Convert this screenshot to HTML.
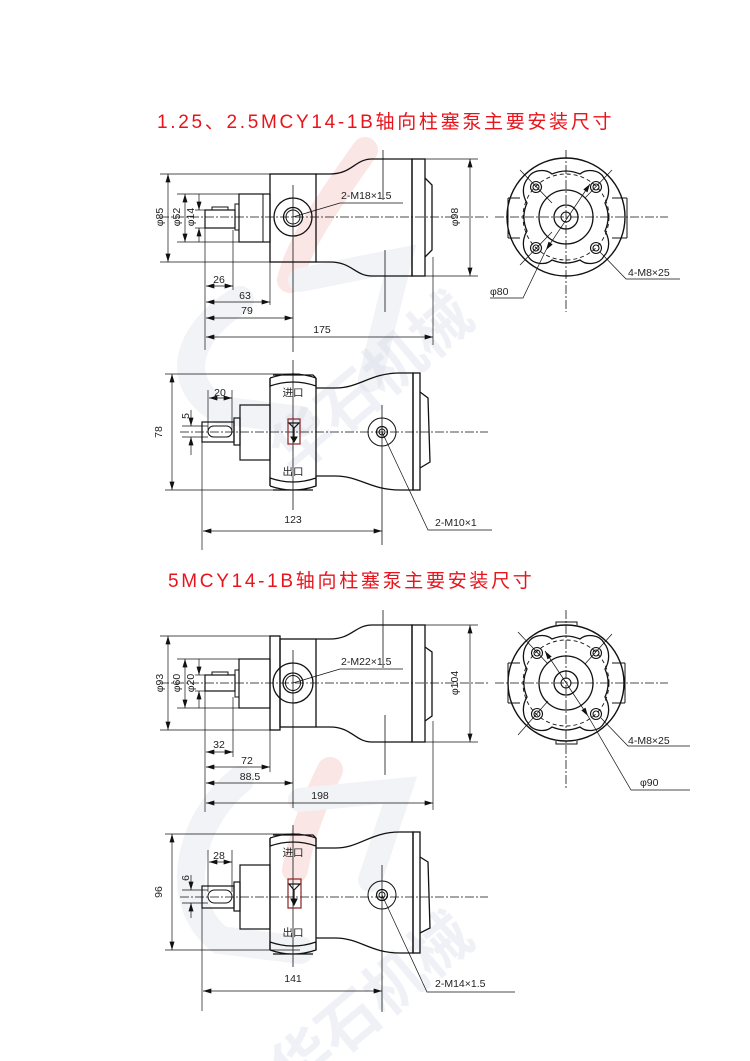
<!DOCTYPE html>
<html><head><meta charset="utf-8"><style>
html,body{margin:0;padding:0;background:#fff;}
svg{display:block;}
text{font-family:"Liberation Sans","Noto Sans CJK SC",sans-serif;fill:#222;}
</style></head><body>
<svg width="750" height="1061" viewBox="0 0 750 1061" xmlns="http://www.w3.org/2000/svg">
<defs>
<marker id="a" viewBox="0 0 10 6" refX="10" refY="3" markerWidth="9" markerHeight="5" markerUnits="userSpaceOnUse" orient="auto-start-reverse"><path d="M0,0 L10,3 L0,6 Z" fill="#111"/></marker>
</defs>

<!-- watermark -->
<g opacity="0.35" fill="none" stroke-linecap="round">
<path d="M365,150 C330,200 300,240 290,280" stroke="#f4b8b8" stroke-width="26"/>
<path d="M240,300 C190,330 170,380 220,410 L300,420" stroke="#d9dde8" stroke-width="28"/>
<path d="M300,280 L400,260 L370,380" stroke="#d9dde8" stroke-width="24"/>
<path d="M330,770 C315,800 300,840 295,870" stroke="#f4b8b8" stroke-width="26"/>
<path d="M240,780 C190,820 170,900 220,940 L300,950" stroke="#d9dde8" stroke-width="28"/>
<path d="M300,800 L400,790 L370,880" stroke="#d9dde8" stroke-width="24"/>
</g>
<g opacity="0.35">
<text x="240" y="1050" font-size="60" font-weight="bold" transform="rotate(-40 330 1000)" style="fill:#d3d8e4">华石机械</text>
<text x="240" y="430" font-size="60" font-weight="bold" transform="rotate(-40 330 380)" style="fill:#d3d8e4">华石机械</text>
</g>

<!-- titles -->
<text x="157" y="128" font-size="19" letter-spacing="2.7" style="fill:#e8141c">1.25、2.5MCY14-1B轴向柱塞泵主要安装尺寸</text>
<text x="168" y="587" font-size="19" letter-spacing="2.7" style="fill:#e8141c">5MCY14-1B轴向柱塞泵主要安装尺寸</text>

<g stroke="#111" fill="none" stroke-width="1">
<!-- ===== Section 1 top view ===== -->
<line x1="160" y1="217" x2="488" y2="217" stroke-dasharray="9 2 2 2" stroke-width="0.8"/>
<line x1="293" y1="185" x2="293" y2="352" stroke-width="0.8"/>
<line x1="383" y1="150" x2="383" y2="200" stroke-width="0.8"/>
<line x1="385" y1="250" x2="385" y2="312" stroke-width="0.8"/>
<rect x="270" y="174" width="46" height="88" stroke-width="1.3"/>
<path d="M316,174 L330,174 C352,174 355,159 372,159 L412,159 L412,276 L372,276 C355,276 352,262 330,262 L316,262" stroke-width="1.3"/>
<rect x="412" y="159" width="13" height="117" stroke-width="1.3"/>
<path d="M425,178 L432,185 L432,250 L425,257" stroke-width="1.3"/>
<rect x="239" y="194" width="31" height="48" stroke-width="1.2"/>
<line x1="263" y1="194" x2="263" y2="242"/>
<rect x="235" y="204" width="4" height="26"/>
<rect x="205" y="210" width="30" height="18" stroke-width="1.2"/>
<rect x="212" y="207" width="16" height="3"/>
<circle cx="293" cy="217" r="19" stroke-width="1.3"/>
<circle cx="293" cy="217" r="9.5" stroke-width="1.3"/>
<circle cx="293" cy="217" r="7"/>
<line x1="160" y1="174" x2="270" y2="174" stroke-width="0.7"/>
<line x1="160" y1="262" x2="270" y2="262" stroke-width="0.7"/>
<line x1="168" y1="174" x2="168" y2="262" marker-start="url(#a)" marker-end="url(#a)" stroke-width="0.7"/>
<line x1="177" y1="194" x2="239" y2="194" stroke-width="0.7"/>
<line x1="177" y1="242" x2="239" y2="242" stroke-width="0.7"/>
<line x1="185" y1="194" x2="185" y2="242" marker-start="url(#a)" marker-end="url(#a)" stroke-width="0.7"/>
<line x1="195" y1="210" x2="205" y2="210" stroke-width="0.7"/>
<line x1="195" y1="228" x2="205" y2="228" stroke-width="0.7"/>
<line x1="199" y1="194" x2="199" y2="210" marker-end="url(#a)" stroke-width="0.7"/>
<line x1="199" y1="242" x2="199" y2="228" marker-end="url(#a)" stroke-width="0.7"/>
<line x1="205" y1="228" x2="205" y2="350" stroke-width="0.7"/>
<line x1="233" y1="230" x2="233" y2="290" stroke-width="0.7"/>
<line x1="270" y1="262" x2="270" y2="305" stroke-width="0.7"/>
<line x1="433" y1="257" x2="433" y2="345" stroke-width="0.7"/>
<line x1="206" y1="286" x2="233" y2="286" marker-start="url(#a)" marker-end="url(#a)" stroke-width="0.7"/>
<line x1="206" y1="302" x2="270" y2="302" marker-start="url(#a)" marker-end="url(#a)" stroke-width="0.7"/>
<line x1="206" y1="318" x2="293" y2="318" marker-start="url(#a)" marker-end="url(#a)" stroke-width="0.7"/>
<line x1="206" y1="337" x2="433" y2="337" marker-start="url(#a)" marker-end="url(#a)" stroke-width="0.7"/>
<line x1="412" y1="159" x2="478" y2="159" stroke-width="0.7"/>
<line x1="425" y1="276" x2="478" y2="276" stroke-width="0.7"/>
<line x1="470" y1="159" x2="470" y2="276" marker-start="url(#a)" marker-end="url(#a)" stroke-width="0.7"/>
<polyline points="293,217 340,203 403,203" stroke-width="0.7"/>

<!-- Section 1 end view -->
<line x1="495" y1="217" x2="668" y2="217" stroke-dasharray="9 2 2 2" stroke-width="0.8"/>
<line x1="566" y1="150" x2="566" y2="312" stroke-dasharray="9 2 2 2" stroke-width="0.8"/>
<path d="M508,198 L508,238 M627,198 L627,238" stroke-width="1"/>
<path d="M508,198 L520,198 M508,238 L520,238 M627,198 L612,198 M627,238 L612,238"/>
<circle cx="566" cy="217" r="59" stroke-width="1.4"/>
<path d="M528,178 C532,170 545,168 552,174 C562,170 570,170 580,174 C587,168 600,170 604,178 C610,185 610,195 605,203 C609,212 609,222 605,231 C610,239 610,250 604,256 C600,264 587,266 580,260 C570,264 562,264 552,260 C545,266 532,264 528,256 C522,250 522,239 527,231 C523,222 523,212 527,203 C522,195 522,185 528,178 Z" stroke-width="1.3"/>
<circle cx="566" cy="217" r="43" stroke-dasharray="4 3" stroke-width="0.9"/>
<circle cx="566" cy="217" r="27" stroke-width="1.3"/>
<circle cx="566" cy="217" r="12" stroke-width="1.3"/>
<circle cx="566" cy="217" r="5"/>
<g stroke-width="1.1"><circle cx="536" cy="187" r="5.5"/><circle cx="536" cy="187" r="3"/><circle cx="596" cy="187" r="5.5"/><circle cx="596" cy="187" r="3"/><circle cx="536" cy="248" r="5.5"/><circle cx="536" cy="248" r="3"/><circle cx="596" cy="248" r="5.5"/><circle cx="596" cy="248" r="3"/></g>
<line x1="520" y1="170" x2="552" y2="203" stroke-width="0.7"/>
<line x1="612" y1="170" x2="585" y2="198" stroke-width="0.7"/>
<line x1="520" y1="265" x2="552" y2="232" stroke-width="0.7"/>
<line x1="546" y1="250" x2="590" y2="184" marker-start="url(#a)" marker-end="url(#a)" stroke-width="0.7"/>
<polyline points="546,250 523,298 490,298" stroke-width="0.7"/>
<polyline points="600,252 626,279 680,279" stroke-width="0.7"/>

<!-- ===== Section 1 side view ===== -->
<line x1="180" y1="432" x2="488" y2="432" stroke-dasharray="9 2 2 2" stroke-width="0.8"/>
<line x1="293" y1="360" x2="293" y2="510" stroke-width="0.8"/>
<line x1="382" y1="405" x2="382" y2="545" stroke-width="0.8"/>
<path d="M270,378 L270,486 M316,378 L316,486" stroke-width="1.3"/>
<path d="M273,375 L313,375 L316,378 Q293,370 270,378 M270,378 L270,386 Q293,378 316,386 L316,378" stroke-width="1.2"/>
<path d="M270,486 L270,478 Q293,486 316,478 L316,486 Q293,494 270,486 M273,490 L313,490" stroke-width="1.2"/>
<path d="M316,388 L335,388 C360,388 370,373 400,373 L413,373 L413,490 L400,490 C370,490 360,476 335,476 L316,476" stroke-width="1.3"/>
<rect x="413" y="373" width="7" height="117" stroke-width="1.3"/>
<path d="M420,392 L428,398 L430,462 L420,468" stroke-width="1.3"/>
<rect x="240" y="405" width="30" height="55" stroke-width="1.2"/>
<rect x="234" y="418" width="6" height="27" stroke-width="1.2"/>
<rect x="202" y="422" width="32" height="20" stroke-width="1.2"/>
<rect x="208" y="426" width="24" height="11" rx="5.5"/>
<rect x="288" y="419" width="12" height="25" stroke="#8a2222" stroke-width="1.2"/>
<path d="M289,423 L299,423 L294,428 Z M294,428 L294,440" stroke-width="1.2"/>
<path d="M291,437 L294,442 L297,437 Z" fill="#111"/>
<circle cx="382" cy="432" r="14"/>
<circle cx="382" cy="432" r="5.5" stroke-width="1.2"/>
<circle cx="382" cy="432" r="3"/>
<line x1="165" y1="374" x2="300" y2="374" stroke-width="0.7"/>
<line x1="165" y1="490" x2="300" y2="490" stroke-width="0.7"/>
<line x1="172" y1="374" x2="172" y2="490" marker-start="url(#a)" marker-end="url(#a)" stroke-width="0.7"/>
<line x1="208" y1="390" x2="208" y2="430" stroke-width="0.7"/>
<line x1="232" y1="390" x2="232" y2="430" stroke-width="0.7"/>
<line x1="209" y1="398" x2="232" y2="398" marker-start="url(#a)" marker-end="url(#a)" stroke-width="0.7"/>
<line x1="182" y1="426" x2="208" y2="426" stroke-width="0.7"/>
<line x1="182" y1="437" x2="208" y2="437" stroke-width="0.7"/>
<line x1="191" y1="410" x2="191" y2="426" marker-end="url(#a)" stroke-width="0.7"/>
<line x1="191" y1="455" x2="191" y2="437" marker-end="url(#a)" stroke-width="0.7"/>
<line x1="202" y1="442" x2="202" y2="550" stroke-width="0.7"/>
<line x1="203" y1="531" x2="382" y2="531" marker-start="url(#a)" marker-end="url(#a)" stroke-width="0.7"/>
<polyline points="382,432 428,530 492,530" stroke-width="0.7"/>

<!-- ===== Section 2 top view ===== -->
<line x1="160" y1="683" x2="488" y2="683" stroke-dasharray="9 2 2 2" stroke-width="0.8"/>
<line x1="293" y1="650" x2="293" y2="808" stroke-width="0.8"/>
<line x1="383" y1="610" x2="383" y2="668" stroke-width="0.8"/>
<line x1="385" y1="715" x2="385" y2="775" stroke-width="0.8"/>
<rect x="270" y="636" width="10" height="94" stroke-width="1.3"/>
<rect x="280" y="639" width="36" height="88" stroke-width="1.3"/>
<path d="M316,639 L330,639 C352,639 355,625 372,625 L412,625 L412,742 L372,742 C355,742 352,727 330,727 L316,727" stroke-width="1.3"/>
<rect x="412" y="625" width="13" height="117" stroke-width="1.3"/>
<path d="M425,647 L432,652 L432,716 L425,721" stroke-width="1.3"/>
<rect x="239" y="659" width="31" height="49" stroke-width="1.2"/>
<rect x="235" y="670" width="4" height="27"/>
<rect x="205" y="675" width="30" height="16" stroke-width="1.2"/>
<rect x="212" y="672" width="16" height="3"/>
<circle cx="293" cy="683" r="20" stroke-width="1.3"/>
<circle cx="293" cy="683" r="10" stroke-width="1.3"/>
<circle cx="293" cy="683" r="7.5"/>
<line x1="160" y1="636" x2="270" y2="636" stroke-width="0.7"/>
<line x1="160" y1="730" x2="270" y2="730" stroke-width="0.7"/>
<line x1="168" y1="636" x2="168" y2="730" marker-start="url(#a)" marker-end="url(#a)" stroke-width="0.7"/>
<line x1="177" y1="659" x2="239" y2="659" stroke-width="0.7"/>
<line x1="177" y1="708" x2="239" y2="708" stroke-width="0.7"/>
<line x1="185" y1="659" x2="185" y2="708" marker-start="url(#a)" marker-end="url(#a)" stroke-width="0.7"/>
<line x1="195" y1="675" x2="205" y2="675" stroke-width="0.7"/>
<line x1="195" y1="691" x2="205" y2="691" stroke-width="0.7"/>
<line x1="199" y1="659" x2="199" y2="675" marker-end="url(#a)" stroke-width="0.7"/>
<line x1="199" y1="708" x2="199" y2="691" marker-end="url(#a)" stroke-width="0.7"/>
<line x1="205" y1="691" x2="205" y2="812" stroke-width="0.7"/>
<line x1="233" y1="697" x2="233" y2="757" stroke-width="0.7"/>
<line x1="270" y1="730" x2="270" y2="772" stroke-width="0.7"/>
<line x1="433" y1="721" x2="433" y2="810" stroke-width="0.7"/>
<line x1="206" y1="752" x2="233" y2="752" marker-start="url(#a)" marker-end="url(#a)" stroke-width="0.7"/>
<line x1="206" y1="767" x2="270" y2="767" marker-start="url(#a)" marker-end="url(#a)" stroke-width="0.7"/>
<line x1="206" y1="783" x2="293" y2="783" marker-start="url(#a)" marker-end="url(#a)" stroke-width="0.7"/>
<line x1="206" y1="803" x2="433" y2="803" marker-start="url(#a)" marker-end="url(#a)" stroke-width="0.7"/>
<line x1="412" y1="625" x2="478" y2="625" stroke-width="0.7"/>
<line x1="425" y1="742" x2="478" y2="742" stroke-width="0.7"/>
<line x1="470" y1="625" x2="470" y2="742" marker-start="url(#a)" marker-end="url(#a)" stroke-width="0.7"/>
<polyline points="293,683 340,669 403,669" stroke-width="0.7"/>

<!-- Section 2 end view -->
<line x1="495" y1="683" x2="668" y2="683" stroke-dasharray="9 2 2 2" stroke-width="0.8"/>
<line x1="566" y1="610" x2="566" y2="790" stroke-dasharray="9 2 2 2" stroke-width="0.8"/>
<path d="M508,663 L508,703 M625,663 L625,703 M508,663 L520,663 M508,703 L520,703 M625,663 L612,663 M625,703 L612,703"/>
<circle cx="566" cy="683" r="58" stroke-width="1.4"/>
<path d="M556,625 L556,622 L577,622 L577,625 M556,741 L556,744 L577,744 L577,741"/>
<path d="M528,643 C532,635 545,633 552,639 C562,635 570,635 580,639 C587,633 600,635 604,643 C610,650 610,661 605,669 C609,678 609,688 605,697 C610,705 610,716 604,723 C600,731 587,733 580,727 C570,731 562,731 552,727 C545,733 532,731 528,723 C522,716 522,705 527,697 C523,688 523,678 527,669 C522,661 522,650 528,643 Z" stroke-width="1.3"/>
<circle cx="566" cy="683" r="43" stroke-dasharray="4 3" stroke-width="0.9"/>
<circle cx="566" cy="683" r="27" stroke-width="1.3"/>
<circle cx="566" cy="683" r="12" stroke-width="1.3"/>
<circle cx="566" cy="683" r="5"/>
<g stroke-width="1.1"><circle cx="537" cy="653" r="5.5"/><circle cx="537" cy="653" r="3"/><circle cx="596" cy="653" r="5.5"/><circle cx="596" cy="653" r="3"/><circle cx="537" cy="714" r="5.5"/><circle cx="537" cy="714" r="3"/><circle cx="596" cy="714" r="5.5"/><circle cx="596" cy="714" r="3"/></g>
<line x1="518" y1="632" x2="548" y2="664" stroke-width="0.7"/>
<line x1="612" y1="634" x2="585" y2="664" stroke-width="0.7"/>
<line x1="518" y1="735" x2="548" y2="701" stroke-width="0.7"/>
<line x1="545" y1="651" x2="588" y2="716" marker-start="url(#a)" marker-end="url(#a)" stroke-width="0.7"/>
<polyline points="588,716 631,790 690,790" stroke-width="0.7"/>
<polyline points="601,718 628,746 690,746" stroke-width="0.7"/>

<!-- ===== Section 2 side view ===== -->
<line x1="180" y1="897" x2="488" y2="897" stroke-dasharray="9 2 2 2" stroke-width="0.8"/>
<line x1="293" y1="825" x2="293" y2="967" stroke-width="0.8"/>
<line x1="382" y1="865" x2="382" y2="1012" stroke-width="0.8"/>
<path d="M270,838 L270,950 M316,838 L316,950" stroke-width="1.3"/>
<path d="M273,835 L313,835 L316,838 Q293,830 270,838 M270,838 L270,846 Q293,838 316,846 L316,838" stroke-width="1.2"/>
<path d="M270,950 L270,942 Q293,950 316,942 L316,950 Q293,958 270,950 M273,954 L313,954" stroke-width="1.2"/>
<path d="M316,848 L335,848 C360,848 370,832 400,832 L413,832 L413,953 L400,953 C370,953 360,938 335,938 L316,938" stroke-width="1.3"/>
<rect x="413" y="832" width="7" height="121" stroke-width="1.3"/>
<path d="M420,857 L428,862 L430,928 L420,933" stroke-width="1.3"/>
<rect x="240" y="865" width="30" height="64" stroke-width="1.2"/>
<rect x="234" y="882" width="6" height="29" stroke-width="1.2"/>
<rect x="202" y="886" width="32" height="22" stroke-width="1.2"/>
<rect x="208" y="890" width="24" height="13" rx="6.5"/>
<rect x="288" y="879" width="13" height="29" stroke="#8a2222" stroke-width="1.2"/>
<path d="M289,884 L300,884 L294,890 Z M294,890 L294,902" stroke-width="1.2"/>
<path d="M291,899 L294,905 L297,899 Z" fill="#111"/>
<circle cx="382" cy="895" r="14"/>
<circle cx="382" cy="895" r="5.5" stroke-width="1.2"/>
<circle cx="382" cy="895" r="3"/>
<line x1="165" y1="834" x2="300" y2="834" stroke-width="0.7"/>
<line x1="165" y1="950" x2="300" y2="950" stroke-width="0.7"/>
<line x1="172" y1="834" x2="172" y2="950" marker-start="url(#a)" marker-end="url(#a)" stroke-width="0.7"/>
<line x1="208" y1="850" x2="208" y2="892" stroke-width="0.7"/>
<line x1="232" y1="850" x2="232" y2="892" stroke-width="0.7"/>
<line x1="209" y1="862" x2="232" y2="862" marker-start="url(#a)" marker-end="url(#a)" stroke-width="0.7"/>
<line x1="182" y1="890" x2="208" y2="890" stroke-width="0.7"/>
<line x1="182" y1="903" x2="208" y2="903" stroke-width="0.7"/>
<line x1="191" y1="875" x2="191" y2="890" marker-end="url(#a)" stroke-width="0.7"/>
<line x1="191" y1="918" x2="191" y2="903" marker-end="url(#a)" stroke-width="0.7"/>
<line x1="202" y1="908" x2="202" y2="1011" stroke-width="0.7"/>
<line x1="203" y1="991" x2="382" y2="991" marker-start="url(#a)" marker-end="url(#a)" stroke-width="0.7"/>
<polyline points="382,895 427,992 515,992" stroke-width="0.7"/>
</g>

<!-- labels -->
<g font-size="10.5">
<text x="341" y="199">2-M18×1.5</text>
<text x="219" y="283" text-anchor="middle">26</text>
<text x="245" y="299" text-anchor="middle">63</text>
<text x="247" y="314" text-anchor="middle">79</text>
<text x="322" y="333" text-anchor="middle">175</text>
<text transform="translate(163,217) rotate(-90)" text-anchor="middle">φ85</text>
<text transform="translate(180,217) rotate(-90)" text-anchor="middle">φ52</text>
<text transform="translate(194,217) rotate(-90)" text-anchor="middle">φ14</text>
<text transform="translate(458,217) rotate(-90)" text-anchor="middle">φ98</text>
<text x="628" y="276">4-M8×25</text>
<text x="490" y="295">φ80</text>
<text x="220" y="396" text-anchor="middle">20</text>
<text transform="translate(189,416) rotate(-90)" text-anchor="middle">5</text>
<text transform="translate(162,432) rotate(-90)" text-anchor="middle">78</text>
<text x="293" y="396" text-anchor="middle">进口</text>
<text x="293" y="475" text-anchor="middle">出口</text>
<text x="293" y="523" text-anchor="middle">123</text>
<text x="435" y="526">2-M10×1</text>

<text x="341" y="665">2-M22×1.5</text>
<text x="219" y="748" text-anchor="middle">32</text>
<text x="247" y="764" text-anchor="middle">72</text>
<text x="250" y="780" text-anchor="middle">88.5</text>
<text x="320" y="799" text-anchor="middle">198</text>
<text transform="translate(163,683) rotate(-90)" text-anchor="middle">φ93</text>
<text transform="translate(180,683) rotate(-90)" text-anchor="middle">φ60</text>
<text transform="translate(194,683) rotate(-90)" text-anchor="middle">φ20</text>
<text transform="translate(458,683) rotate(-90)" text-anchor="middle">φ104</text>
<text x="628" y="744">4-M8×25</text>
<text x="640" y="786">φ90</text>
<text x="219" y="859" text-anchor="middle">28</text>
<text transform="translate(189,878) rotate(-90)" text-anchor="middle">6</text>
<text transform="translate(162,892) rotate(-90)" text-anchor="middle">96</text>
<text x="293" y="856" text-anchor="middle">进口</text>
<text x="293" y="936" text-anchor="middle">出口</text>
<text x="293" y="982" text-anchor="middle">141</text>
<text x="435" y="987">2-M14×1.5</text>
</g>
</svg>
</body></html>
